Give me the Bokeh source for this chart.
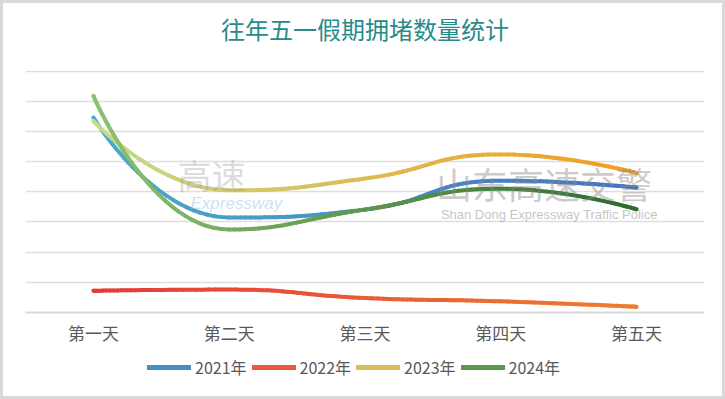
import numpy as np
from bokeh.plotting import figure
from bokeh.layouts import column
from bokeh.models import Range1d, FixedTicker, Legend, LegendItem, Label
from bokeh.embed import file_html
from bokeh.resources import INLINE

title_text = "往年五一假期拥堵数量统计"
days = ["第一天", "第二天", "第三天", "第四天", "第五天"]
series_names = ["2021年", "2022年", "2023年", "2024年"]
v2021 = [6.46, 3.15, 3.41, 4.37, 4.14]
v2022 = [0.72, 0.76, 0.48, 0.37, 0.19]
v2023 = [6.35, 4.05, 4.44, 5.24, 4.62]
v2024 = [7.18, 2.75, 3.41, 4.10, 3.42]
grad = [("#4bacc6", "#4472c4"), ("#e8383a", "#ed7d31"),
        ("#c5db8a", "#f39c1e"), ("#8dc26f", "#2e6b2e")]
values = [v2021, v2022, v2023, v2024]

CJK = "Noto Sans CJK SC"
W = 719


def bare_fig(h):
    f = figure(width=W, height=h, output_backend="svg", toolbar_location=None,
               x_range=Range1d(0, 1), y_range=Range1d(0, 1),
               min_border_left=0, min_border_right=0, min_border_top=0, min_border_bottom=0)
    f.axis.visible = False
    f.grid.visible = False
    f.outline_line_color = None
    f.background_fill_color = "white"
    f.border_fill_color = "white"
    return f


# title strip
t = bare_fig(47)
t.add_layout(Label(x=0.5, y=0.468, text=title_text, text_font=CJK, text_font_size="24px",
                   text_color="#268c8a", text_align="center", text_baseline="middle"))

# main chart
p = figure(width=W, height=302, output_backend="svg", toolbar_location=None,
           x_range=Range1d(0.5, 5.5), y_range=Range1d(0, 8.02),
           min_border_left=22, min_border_right=18, min_border_top=20,
           min_border_bottom=40)
p.outline_line_color = None
p.background_fill_color = "white"
p.border_fill_color = "white"

p.xaxis.ticker = FixedTicker(ticks=[1, 2, 3, 4, 5])
p.xaxis.major_label_overrides = {i + 1: d for i, d in enumerate(days)}
p.xaxis.major_label_text_font = CJK
p.xaxis.major_label_text_font_size = "17px"
p.xaxis.major_label_text_color = "#595959"
p.xaxis.major_label_standoff = 1
p.xaxis.major_tick_line_color = None
p.xaxis.minor_tick_line_color = None
p.xaxis.axis_line_color = "#d9d9d9"
p.xaxis.axis_line_width = 2
p.xgrid.visible = False
p.yaxis.ticker = FixedTicker(ticks=list(range(0, 9)))
p.yaxis.visible = False
p.ygrid.grid_line_color = "#dedede"
p.ygrid.grid_line_width = 1.5

SX, SY = 135.8, 30.1  # approximate pixel scale, used only for smoothing shape


def smooth_curve(xs, ys, smooth=0.5, n=30):
    P = np.column_stack([np.asarray(xs, float) * SX, np.asarray(ys, float) * SY])
    m = len(P)
    out = [P[0]]
    cp0 = P[0].copy()
    for i in range(1, m):
        prev, cur = P[i - 1], P[i]
        if i == m - 1:
            ncp0 = cur.copy()
            ncp1 = cur.copy()
        else:
            nxt = P[i + 1]
            v = nxt - prev
            lp = np.hypot(*(cur - prev))
            ln = np.hypot(*(nxt - cur))
            r = ln / (ln + lp)
            ncp1 = cur + v * smooth * r
            ncp1 = np.minimum(ncp1, np.maximum(nxt, cur))
            ncp1 = np.maximum(ncp1, np.minimum(nxt, cur))
            v = ncp1 - cur
            ncp0 = cur - v * lp / ln
            ncp0 = np.minimum(ncp0, np.maximum(prev, cur))
            ncp0 = np.maximum(ncp0, np.minimum(prev, cur))
            v = cur - ncp0
            ncp1 = cur + v * ln / lp
        tt = np.linspace(0, 1, n + 1)[1:, None]
        seg = ((1 - tt) ** 3) * prev + 3 * ((1 - tt) ** 2) * tt * cp0 + \
            3 * (1 - tt) * tt ** 2 * ncp0 + tt ** 3 * cur
        out.extend(seg)
        cp0 = ncp1
    out = np.array(out)
    return out[:, 0] / SX, out[:, 1] / SY


def hex2rgb(h):
    return np.array([int(h[i:i + 2], 16) for i in (1, 3, 5)], float)


def blend(c0, c1, f):
    a, b = hex2rgb(c0), hex2rgb(c1)
    c = a + (b - a) * f
    return "#%02x%02x%02x" % tuple(int(round(v)) for v in c)


xs = np.arange(1, len(days) + 1)
for name, vals, (c0, c1) in zip(series_names, values, grad):
    cx, cy = smooth_curve(xs, vals)
    x0, y0, x1, y1 = cx[:-1], cy[:-1], cx[1:], cy[1:]
    f = ((x0 + x1) / 2 - 1) / 4.0
    cols = [blend(c0, c1, fi) for fi in f]
    p.segment(x0, y0, x1, y1, line_color=cols, line_width=4, line_cap="round")

# watermark texts
p.add_layout(Label(x=3.5, y=4.28, text="山东高速交警", text_font=CJK, text_font_size="36px",
                   text_color="#8a8a8a", text_alpha=0.45, text_align="left",
                   text_baseline="middle", x_offset=3))
p.add_layout(Label(x=3.5, y=3.25, text="Shan Dong Expressway Traffic Police",
                   text_font="Liberation Sans", text_font_size="13px",
                   text_color="#8a8a8a", text_alpha=0.5, text_baseline="middle", x_offset=8))
p.add_layout(Label(x=1.62, y=4.56, text="高速", text_font=CJK, text_font_size="34px",
                   text_color="#9a9a9a", text_alpha=0.35, text_baseline="middle"))
p.add_layout(Label(x=1.715, y=3.61, text="Expressway", text_font="Liberation Sans",
                   text_font_size="17px", text_font_style="italic",
                   text_color="#9fc8e8", text_alpha=0.55, text_baseline="middle"))

# legend strip
q = bare_fig(44)
legend_items = []
for name, (c0, c1) in zip(series_names, grad):
    r = q.line([-5, -4], [-5, -4], line_color=blend(c0, c1, 0.5), line_width=5,
               line_cap="round")
    legend_items.append(LegendItem(label=name, renderers=[r]))
legend = Legend(items=legend_items, orientation="horizontal", location=(122, 17),
                label_text_font=CJK, label_text_font_size="16px",
                label_text_color="#595959", glyph_width=44, glyph_height=16,
                label_standoff=4, spacing=5, padding=0, margin=0,
                border_line_color=None, background_fill_alpha=0)
q.add_layout(legend)

layout = column(t, p, q, spacing=0,
                styles={"background-color": "white", "padding": "3px",
                        "box-shadow": "inset 0 0 0 3px #d9d9d9"})
open("out.html", "w").write(file_html(layout, INLINE))
